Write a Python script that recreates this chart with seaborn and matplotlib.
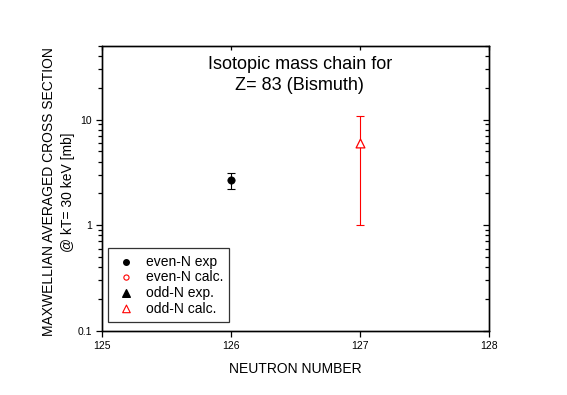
import numpy as np
import pandas as pd
import matplotlib
matplotlib.use("Agg")
import matplotlib.pyplot as plt
import seaborn as sns
from matplotlib.ticker import LogLocator, NullFormatter, FixedLocator

# data
even_exp_n = [126]
even_exp_y = [2.7]
even_exp_lo = [2.2]
even_exp_hi = [3.1]

odd_calc_n = [127]
odd_calc_y = [6.0]
odd_calc_lo = [1.0]
odd_calc_hi = [10.7]

x_ticks = [125, 126, 127, 128]
y_ticks = [0.1, 1, 10]
y_tick_labels = ["0.1", "1", "10"]

sns.set_style("ticks", {"axes.edgecolor": "black", "text.color": "black",
                        "axes.labelcolor": "black", "xtick.color": "black",
                        "ytick.color": "black"})
plt.rcParams['font.family'] = ['Liberation Sans', 'DejaVu Sans']

fig = plt.figure(figsize=(5.67, 3.95), dpi=100)
ax = fig.add_axes([0.18, 0.163, 0.682, 0.721])

df_even = pd.DataFrame({"N": even_exp_n, "sigma": even_exp_y})
df_odd = pd.DataFrame({"N": odd_calc_n, "sigma": odd_calc_y})

# error bars
ax.errorbar(even_exp_n, even_exp_y,
            yerr=[np.array(even_exp_y) - np.array(even_exp_lo),
                  np.array(even_exp_hi) - np.array(even_exp_y)],
            fmt="none", ecolor="black", elinewidth=0.8, capsize=3, capthick=0.8)
ax.errorbar(odd_calc_n, odd_calc_y,
            yerr=[np.array(odd_calc_y) - np.array(odd_calc_lo),
                  np.array(odd_calc_hi) - np.array(odd_calc_y)],
            fmt="none", ecolor="red", elinewidth=0.8, capsize=3, capthick=0.8)

sns.scatterplot(data=df_even, x="N", y="sigma", ax=ax, marker="o", s=28,
                color="black", edgecolor="black", linewidth=0.5, zorder=5, legend=False)
sns.scatterplot(data=df_odd, x="N", y="sigma", ax=ax, marker="^", s=40,
                facecolor="white", edgecolor="red", linewidth=0.9, zorder=5, legend=False)

# legend handles
h1 = ax.scatter([], [], marker="o", s=16, color="black", label="even-N exp")
h2 = ax.scatter([], [], marker="o", s=14, facecolor="none", edgecolor="red", linewidth=0.8, label="even-N calc.")
h3 = ax.scatter([], [], marker="^", s=30, color="black", label="odd-N exp.")
h4 = ax.scatter([], [], marker="^", s=30, facecolor="none", edgecolor="red", linewidth=0.8, label="odd-N calc.")
leg = ax.legend(handles=[h1, h2, h3, h4], loc="lower left", bbox_to_anchor=(0.0155, 0.031),
                borderaxespad=0, fontsize=10, frameon=True, fancybox=False, edgecolor="black",
                handletextpad=0.5, handlelength=1.75, labelspacing=0.12, borderpad=0.45)
leg.get_frame().set_linewidth(0.9)

ax.set_yscale("log")
ax.set_xlim(125, 128)
ax.set_ylim(0.1, 50)
ax.xaxis.set_major_locator(FixedLocator(x_ticks))
ax.set_xticklabels([str(t) for t in x_ticks])
ax.yaxis.set_major_locator(FixedLocator(y_ticks))
ax.set_yticklabels(y_tick_labels)
ax.yaxis.set_minor_locator(LogLocator(base=10, subs=np.arange(2, 10)))
ax.yaxis.set_minor_formatter(NullFormatter())

ax.tick_params(which="major", direction="out", length=4.3, width=0.9, labelsize=7.5, pad=3)
ax.tick_params(which="minor", direction="out", length=2.8, width=0.9)
for s in ax.spines.values():
    s.set_linewidth(0.9)

# right and top ticks point inward
axr = ax.twinx()
axr.set_yscale("log")
axr.set_ylim(ax.get_ylim())
axr.yaxis.set_major_locator(FixedLocator(y_ticks))
axr.yaxis.set_minor_locator(LogLocator(base=10, subs=np.arange(2, 10)))
axr.yaxis.set_major_formatter(NullFormatter())
axr.yaxis.set_minor_formatter(NullFormatter())
axr.tick_params(which="major", direction="in", length=4.3, width=0.9)
axr.tick_params(which="minor", direction="in", length=2.8, width=0.9)

axt = ax.twiny()
axt.set_xlim(ax.get_xlim())
axt.xaxis.set_major_locator(FixedLocator(x_ticks))
axt.xaxis.set_major_formatter(NullFormatter())
axt.tick_params(which="major", direction="in", length=3, width=0.9)
for a in (axr, axt):
    for s in a.spines.values():
        s.set_linewidth(0.9)

ax.set_xlabel("NEUTRON NUMBER", fontsize=10, labelpad=8)
ax.set_ylabel("MAXWELLIAN AVERAGED CROSS SECTION\n@ kT= 30 keV [mb]", fontsize=10,
              linespacing=1.45)
ax.yaxis.set_label_coords((58 - 102) / 387, 0.487)
ax.yaxis.label.set_verticalalignment("center")

ax.text(126.535, 26.5, "Isotopic mass chain for\nZ= 83 (Bismuth)", ha="center", va="center",
        fontsize=13, linespacing=1.25)

fig.savefig("out.png", dpi=100)
